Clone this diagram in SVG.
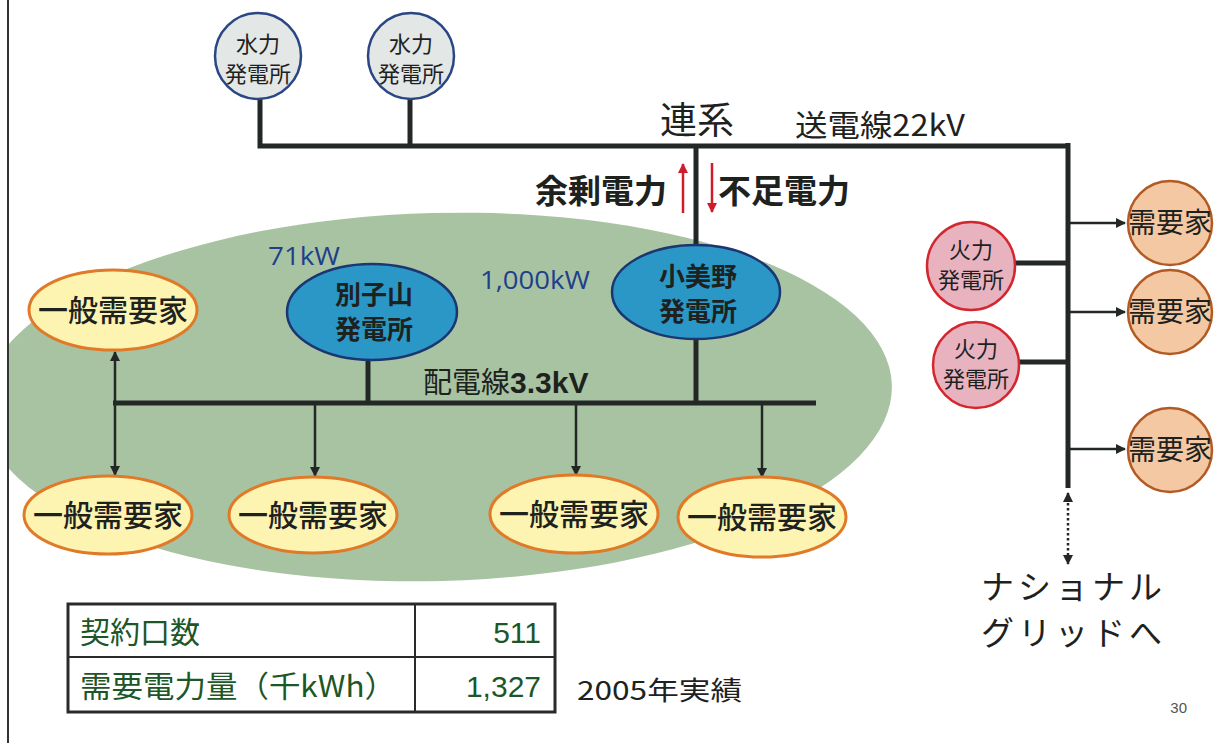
<svg xmlns="http://www.w3.org/2000/svg" width="1217" height="743" viewBox="0 0 1217 743">
<style>
  .jp { font-family: "Noto Sans CJK JP", "Noto Sans", sans-serif; }
  .bus { stroke: #232826; stroke-width: 5; fill: none; }
  .thin { stroke: #232826; stroke-width: 2.5; fill: none; }
  .hydro { fill: #e3e7e5; stroke: #2a4684; stroke-width: 2.5; }
  .blue { fill: #2b97c6; stroke: #1b3670; stroke-width: 2.5; }
  .gen { fill: #fcf4b0; stroke: #e07a28; stroke-width: 3; }
  .fire { fill: #e8b3bf; stroke: #d3272f; stroke-width: 2.5; }
  .dem { fill: #f3c8a2; stroke: #b25a22; stroke-width: 2.5; }
  .t { fill: #1e221f; }
  .kw { fill: #1f3f8c; font-family: "Open Sans", "Noto Sans", sans-serif; }
  .green { fill: #1d5627; }
</style>
<defs>
  <marker id="ah" viewBox="0 0 10 10" refX="9" refY="5" markerWidth="4" markerHeight="4" orient="auto-start-reverse">
    <path d="M0,0 L10,5 L0,10 z" fill="#232826"/>
  </marker>
  <marker id="ahr" viewBox="0 0 10 10" refX="9" refY="5" markerWidth="4" markerHeight="4" orient="auto">
    <path d="M0,0 L10,5 L0,10 z" fill="#d01c2a"/>
  </marker>
  <clipPath id="slide">
    <rect x="9" y="0" width="1208" height="743"/>
  </clipPath>
</defs>
<rect width="1217" height="743" fill="#ffffff"/>

<!-- green service area -->
<g clip-path="url(#slide)">
  <ellipse id="area" cx="437" cy="397" rx="455" ry="184" fill="#a8c3a1" transform="rotate(-1.5 437 397)"/>
</g>
<line x1="8" y1="0" x2="8" y2="743" stroke="#333" stroke-width="2"/>

<g id="connectors">
  <!-- transmission 22kV -->
  <polyline class="bus" points="260,98 260,146 1070,146"/>
  <line class="bus" x1="410" y1="98" x2="410" y2="146"/>
  <line class="bus" x1="1068" y1="143" x2="1068" y2="488" stroke-width="6"/>
  <line class="bus" x1="696" y1="146" x2="696" y2="246"/>
  <!-- thermal links -->
  <line class="bus" x1="1015" y1="263" x2="1068" y2="263"/>
  <line class="bus" x1="1019" y1="362" x2="1068" y2="362"/>
  <!-- to demand -->
  <line class="thin" x1="1068" y1="223" x2="1125" y2="223" marker-end="url(#ah)"/>
  <line class="thin" x1="1068" y1="312" x2="1125" y2="312" marker-end="url(#ah)"/>
  <line class="thin" x1="1068" y1="449" x2="1125" y2="449" marker-end="url(#ah)"/>
  <!-- national grid dotted -->
  <line x1="1068" y1="493" x2="1068" y2="564" stroke="#232826" stroke-width="2.5" stroke-dasharray="2.5 2.5" marker-start="url(#ah)" marker-end="url(#ah)"/>
  <!-- red flows -->
  <line x1="683" y1="213" x2="683" y2="164" stroke="#d01c2a" stroke-width="2.5" marker-end="url(#ahr)"/>
  <line x1="712" y1="163" x2="712" y2="212" stroke="#d01c2a" stroke-width="2.5" marker-end="url(#ahr)"/>
  <!-- distribution 3.3kV -->
  <line class="bus" x1="113" y1="403" x2="816" y2="403"/>
  <line class="bus" x1="368" y1="360" x2="368" y2="403"/>
  <line class="bus" x1="696" y1="338" x2="696" y2="403"/>
  <line class="thin" x1="115" y1="403" x2="115" y2="352" marker-end="url(#ah)"/>
  <line class="thin" x1="115" y1="403" x2="115" y2="475" marker-end="url(#ah)"/>
  <line class="thin" x1="315" y1="403" x2="315" y2="476" marker-end="url(#ah)"/>
  <line class="thin" x1="576" y1="403" x2="576" y2="475" marker-end="url(#ah)"/>
  <line class="thin" x1="762" y1="403" x2="762" y2="477" marker-end="url(#ah)"/>
</g>

<!-- hydro plants -->
<g id="hydro1">
  <circle class="hydro" cx="258" cy="56" r="43"/>
  <text class="jp t" font-size="22" text-anchor="middle"><tspan x="258" y="52">水力</tspan><tspan x="258" y="82">発電所</tspan></text>
</g>
<g id="hydro2">
  <circle class="hydro" cx="411" cy="56" r="43"/>
  <text class="jp t" font-size="22" text-anchor="middle"><tspan x="411" y="52">水力</tspan><tspan x="411" y="82">発電所</tspan></text>
</g>

<!-- labels top -->
<text class="jp t" x="697" y="134" font-size="37" text-anchor="middle">連系</text>
<text class="jp t" x="795" y="136" font-size="30" textLength="170" lengthAdjust="spacingAndGlyphs">送電線22kV</text>
<text class="jp t" x="667" y="203" font-size="33" font-weight="bold" text-anchor="end">余剰電力</text>
<text class="jp t" x="718" y="203" font-size="33" font-weight="bold">不足電力</text>

<!-- power plants in area -->
<text class="kw" x="268" y="265" font-size="25" textLength="72" lengthAdjust="spacingAndGlyphs">71kW</text>
<text class="kw" x="480" y="289" font-size="25" textLength="110" lengthAdjust="spacingAndGlyphs">1,000kW</text>
<g id="besshiyama">
  <ellipse class="blue" cx="372" cy="312" rx="85" ry="48"/>
  <text class="jp t" font-size="26" font-weight="bold" text-anchor="middle"><tspan x="374" y="304">別子山</tspan><tspan x="374" y="339">発電所</tspan></text>
</g>
<g id="komino">
  <ellipse class="blue" cx="696" cy="292" rx="84" ry="47"/>
  <text class="jp t" font-size="26" font-weight="bold" text-anchor="middle"><tspan x="698" y="286">小美野</tspan><tspan x="698" y="321">発電所</tspan></text>
</g>
<text class="jp t" x="423" y="393" font-size="29">配電線<tspan font-family="Liberation Sans, Arial, sans-serif" font-weight="bold" font-size="30">3.3kV</tspan></text>

<!-- general consumers -->
<g id="gen1">
  <ellipse class="gen" cx="113" cy="310" rx="84" ry="40"/>
  <text class="jp t" x="113" y="321" font-size="30" font-weight="500" text-anchor="middle">一般需要家</text>
</g>
<g id="gen2">
  <ellipse class="gen" cx="108" cy="515" rx="84" ry="39"/>
  <text class="jp t" x="108" y="526" font-size="30" font-weight="500" text-anchor="middle">一般需要家</text>
</g>
<g id="gen3">
  <ellipse class="gen" cx="313" cy="515" rx="84" ry="38"/>
  <text class="jp t" x="313" y="526" font-size="30" font-weight="500" text-anchor="middle">一般需要家</text>
</g>
<g id="gen4">
  <ellipse class="gen" cx="574" cy="514" rx="84" ry="39"/>
  <text class="jp t" x="574" y="525" font-size="30" font-weight="500" text-anchor="middle">一般需要家</text>
</g>
<g id="gen5">
  <ellipse class="gen" cx="762" cy="517" rx="84" ry="40"/>
  <text class="jp t" x="762" y="528" font-size="30" font-weight="500" text-anchor="middle">一般需要家</text>
</g>

<!-- thermal plants -->
<g id="thermal1">
  <circle class="fire" cx="971" cy="266" r="44"/>
  <text class="jp t" font-size="22" text-anchor="middle"><tspan x="971" y="258">火力</tspan><tspan x="971" y="288">発電所</tspan></text>
</g>
<g id="thermal2">
  <circle class="fire" cx="976" cy="365" r="43"/>
  <text class="jp t" font-size="22" text-anchor="middle"><tspan x="976" y="357">火力</tspan><tspan x="976" y="387">発電所</tspan></text>
</g>

<!-- demand -->
<g id="demand1">
  <circle class="dem" cx="1170" cy="223" r="42"/>
  <text class="jp t" x="1170" y="233" font-size="28" text-anchor="middle">需要家</text>
</g>
<g id="demand2">
  <circle class="dem" cx="1170" cy="312" r="42"/>
  <text class="jp t" x="1170" y="322" font-size="28" text-anchor="middle">需要家</text>
</g>
<g id="demand3">
  <circle class="dem" cx="1170" cy="450" r="42"/>
  <text class="jp t" x="1170" y="460" font-size="28" text-anchor="middle">需要家</text>
</g>

<!-- national grid -->
<text class="jp t" font-size="33" letter-spacing="4"><tspan x="981" y="599">ナショナル</tspan><tspan x="981" y="645">グリッドへ</tspan></text>

<!-- table -->
<g id="table">
  <rect x="68" y="604" width="487" height="108" fill="#ffffff" stroke="#2a2a2a" stroke-width="3"/>
  <line x1="68" y1="657" x2="555" y2="657" stroke="#2a2a2a" stroke-width="2"/>
  <line x1="415" y1="604" x2="415" y2="712" stroke="#2a2a2a" stroke-width="2"/>
  <text class="jp green" x="80" y="643" font-size="30">契約口数</text>
  <text class="green" x="541" y="643" font-size="30" text-anchor="end" font-family="Liberation Sans Narrow, Liberation Sans, sans-serif">511</text>
  <text class="jp green" x="80" y="697" font-size="30" textLength="316" lengthAdjust="spacingAndGlyphs">需要電力量（千kWh）</text>
  <text class="green" x="541" y="697" font-size="30" text-anchor="end" font-family="Liberation Sans Narrow, Liberation Sans, sans-serif">1,327</text>
</g>
<text class="jp t" x="577" y="700" font-size="26" textLength="165" lengthAdjust="spacingAndGlyphs">2005年実績</text>
<text x="1187" y="713" font-size="15" text-anchor="end" fill="#555" font-family="Liberation Sans, Arial, sans-serif">30</text>
</svg>
